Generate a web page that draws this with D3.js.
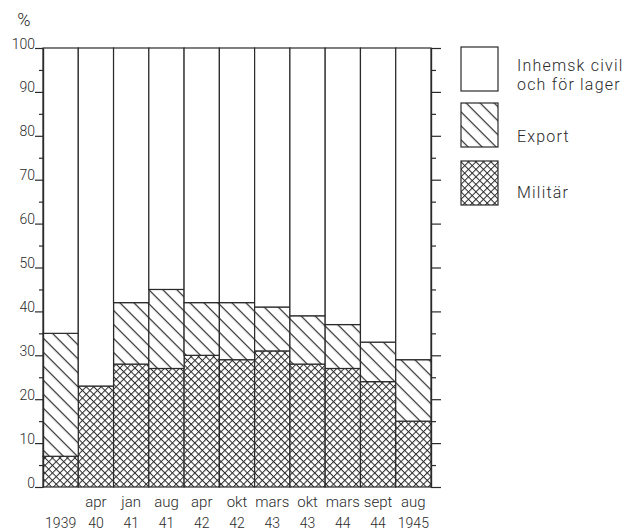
<!DOCTYPE html>
<html>
<head>
<meta charset="utf-8">
<script src="https://cdn.jsdelivr.net/npm/d3@7"></script>
<style>
  html, body { margin: 0; padding: 0; background: #fff; }
  svg { display: block; }
  text { font-family: Roboto, "DejaVu Sans", sans-serif; font-weight: 300; fill: #2a2a2a; }
</style>
</head>
<body>
<div id="chart"></div>
<script>
// ---- data ----
const labelsTop = ["", "apr", "jan", "aug", "apr", "okt", "mars", "okt", "mars", "sept", "aug"];
const labelsBottom = ["1939", "40", "41", "41", "42", "42", "43", "43", "44", "44", "1945"];
const militar = [7, 23, 28, 27, 30, 29, 31, 28, 27, 24, 15];
const exportVals = [28, 0, 14, 18, 12, 13, 10, 11, 10, 9, 14];
const inhemsk = [65, 77, 58, 55, 58, 58, 59, 61, 63, 67, 71];
const seriesKeys = ["militar", "export", "inhemsk"];
const legendLabels = [["Inhemsk civil", "och för lager"], ["Export"], ["Militär"]];
const majorTicks = [0, 10, 20, 30, 40, 50, 60, 70, 80, 90, 100];
const minorTicks = [5, 15, 25, 35, 45, 55, 65, 75, 85, 95];

const categories = labelsBottom.map((b, i) => (labelsTop[i] ? labelsTop[i] + " " : "") + b + "#" + i);
const table = categories.map((c, i) => ({ cat: c, militar: militar[i], export: exportVals[i], inhemsk: inhemsk[i] }));

const W = 642, H = 532;
const svg = d3.select("#chart").append("svg").attr("width", W).attr("height", H);
const defs = svg.append("defs");
const ink = "#2a2a2a";

// patterns
const p1 = defs.append("pattern").attr("id", "diag").attr("patternUnits", "userSpaceOnUse")
  .attr("width", 10).attr("height", 9.9).attr("patternTransform", "rotate(45)");
p1.append("rect").attr("width", 10).attr("height", 9.9).attr("fill", "#fff");
p1.append("line").attr("x1", 0).attr("x2", 10).attr("y1", 0.6).attr("y2", 0.6)
  .attr("stroke", ink).attr("stroke-width", 1.2);

const p2 = defs.append("pattern").attr("id", "cross").attr("patternUnits", "userSpaceOnUse")
  .attr("width", 5.3).attr("height", 5.3).attr("patternTransform", "rotate(45)");
p2.append("rect").attr("width", 5.3).attr("height", 5.3).attr("fill", "#fff");
p2.append("line").attr("x1", 0).attr("x2", 5.3).attr("y1", 0.5).attr("y2", 0.5)
  .attr("stroke", ink).attr("stroke-width", 1);
p2.append("line").attr("y1", 0).attr("y2", 5.3).attr("x1", 0.5).attr("x2", 0.5)
  .attr("stroke", ink).attr("stroke-width", 1);

const fills = { militar: "url(#cross)", export: "url(#diag)", inhemsk: "#fff" };

// scales
const x = d3.scaleBand().domain(categories).range([43, 431]).padding(0);
const y = d3.scaleLinear().domain([0, 100]).range([487, 48]);

const stack = d3.stack().keys(seriesKeys)(table);

svg.append("g").selectAll("g").data(stack).join("g")
  .attr("fill", d => fills[d.key])
  .selectAll("rect").data(d => d.filter(v => v[1] - v[0] > 0)).join("rect")
  .attr("x", d => x(d.data.cat))
  .attr("y", d => y(d[1]))
  .attr("width", x.bandwidth())
  .attr("height", d => y(d[0]) - y(d[1]))
  .attr("stroke", ink).attr("stroke-width", 1.2);

// left axis
const gl = svg.append("g").attr("transform", "translate(43,0)");
gl.call(d3.axisLeft(y).tickValues(majorTicks).tickSize(8).tickSizeOuter(0).tickPadding(0));
gl.append("g").call(d3.axisLeft(y).tickValues(minorTicks).tickSize(4).tickSizeOuter(0).tickFormat(""));
gl.selectAll(".domain").attr("stroke", ink).attr("stroke-width", 1.2);
gl.selectAll(".tick line").attr("stroke", ink).attr("stroke-width", 1.2);
gl.selectAll(".tick text").attr("dy", "0em").style("font-size", "14px")
  .style("font-family", "Roboto, sans-serif").style("font-weight", "300").attr("fill", "#2a2a2a");

// right axis
const gr = svg.append("g").attr("transform", "translate(431,0)");
gr.call(d3.axisRight(y).tickValues(majorTicks).tickSize(10).tickSizeOuter(0).tickFormat(""));
gr.append("g").call(d3.axisRight(y).tickValues(minorTicks).tickSize(5).tickSizeOuter(0).tickFormat(""));
gr.selectAll(".domain").attr("stroke", ink).attr("stroke-width", 1.2);
gr.selectAll(".tick line").attr("stroke", ink).attr("stroke-width", 1.2);

// percent sign
svg.append("text").attr("x", 24).attr("y", 26).attr("text-anchor", "middle")
  .style("font-size", "18px").text("%");

// x labels
const xl = svg.append("g");
xl.selectAll("text.top").data(categories).join("text").attr("class", "top")
  .attr("x", d => x(d) + x.bandwidth() / 2).attr("y", 507)
  .attr("text-anchor", "middle").style("font-size", "15px")
  .text((d, i) => labelsTop[i]);
xl.selectAll("text.bot").data(categories).join("text").attr("class", "bot")
  .attr("x", d => x(d) + x.bandwidth() / 2).attr("y", 528)
  .attr("text-anchor", "middle").style("font-size", "14px")
  .text((d, i) => labelsBottom[i]);

// legend
const legendKeys = ["inhemsk", "export", "militar"];
const boxY = [47, 103, 161];
const lg = svg.append("g");
legendKeys.forEach((k, i) => {
  lg.append("rect").attr("x", 461).attr("y", boxY[i]).attr("width", 37).attr("height", 44)
    .attr("fill", fills[k]).attr("stroke", ink).attr("stroke-width", 1.2);
});
const legendBaselines = [[71, 90], [142], [198]];
legendLabels.forEach((lines, i) => {
  lines.forEach((t, j) => {
    lg.append("text").attr("x", 517).attr("y", legendBaselines[i][j])
      .style("font-size", "16px").style("letter-spacing", "1.2px").text(t);
  });
});
</script>
</body>
</html>
